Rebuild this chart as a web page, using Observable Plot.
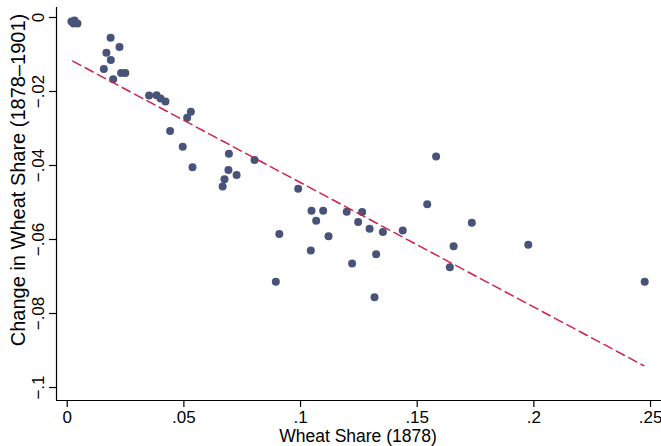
<!DOCTYPE html>
<html>
<head>
<meta charset="utf-8">
<script src="https://cdn.jsdelivr.net/npm/d3@7"></script>
<script src="https://cdn.jsdelivr.net/npm/@observablehq/plot@0.6"></script>
<style>
  html, body { margin: 0; padding: 0; background: white; }
</style>
</head>
<body>
<div id="chart"></div>
<script>
// Wheat share in 1878 (x) and change in wheat share 1878–1901 (y)
const wheatShare1878 = [
  0.0018, 0.0031, 0.0027, 0.0044,
  0.0186, 0.0224, 0.0168, 0.0187, 0.0157, 0.0231, 0.0249, 0.0197,
  0.0351, 0.0383, 0.0400, 0.0421, 0.0530, 0.0514, 0.0441, 0.0495, 0.0537,
  0.0693, 0.0691, 0.0674, 0.0666, 0.0726, 0.0803,
  0.0990, 0.1047, 0.1097, 0.1067, 0.1198, 0.1264, 0.1247, 0.1296, 0.1353, 0.1438,
  0.0909, 0.1120, 0.1044, 0.1324, 0.1221, 0.0894, 0.1317,
  0.1581, 0.1543, 0.1734, 0.1656, 0.1640, 0.1976, 0.2475
];
const changeWheatShare = [
  -0.0011, -0.0008, -0.0016, -0.0016,
  -0.0055, -0.0080, -0.0095, -0.0115, -0.0139, -0.0150, -0.0150, -0.0167,
  -0.0211, -0.0210, -0.0219, -0.0227, -0.0255, -0.0271, -0.0307, -0.0349, -0.0405,
  -0.0368, -0.0412, -0.0437, -0.0457, -0.0426, -0.0385,
  -0.0463, -0.0522, -0.0522, -0.0549, -0.0525, -0.0526, -0.0553, -0.0571, -0.0580, -0.0576,
  -0.0585, -0.0591, -0.0630, -0.0640, -0.0665, -0.0714, -0.0756,
  -0.0376, -0.0505, -0.0555, -0.0618, -0.0675, -0.0614, -0.0714
];
// Fitted values (linear fit) at the ends of the data range
const fitX = [0.0024, 0.2471];
const fitY = [-0.0118, -0.0941];

const xTicks = [0, 0.05, 0.1, 0.15, 0.2, 0.25];
const yTicks = [0, -0.02, -0.04, -0.06, -0.08, -0.1];
const xTitle = "Wheat Share (1878)";
const yTitle = "Change in Wheat Share (1878–1901)";

const points = wheatShare1878.map((x, i) => ({x, y: changeWheatShare[i]}));
const fit = fitX.map((x, i) => ({x, y: fitY[i]}));

const fmt = d => d === 0 ? "0" : (d < 0 ? "\u2212" : "") + String(Math.abs(d)).replace(/^0/, "");

const xDomain = [-0.00459, 0.2547];
const yDomain = [-0.10351, 0.0027];

const chart = Plot.plot({
  width: 661,
  height: 446,
  marginLeft: 56,
  marginRight: 0,
  marginTop: 7,
  marginBottom: 46,
  x: {domain: xDomain},
  y: {domain: yDomain},
  style: {fontFamily: "'Liberation Sans', Arial, sans-serif", fontSize: "17px", color: "black", background: "white"},
  marks: [
    Plot.ruleX([xDomain[0]], {stroke: "black", strokeWidth: 1.2}),
    Plot.ruleY([yDomain[0]], {stroke: "black", strokeWidth: 1.2}),
    Plot.axisX({ticks: xTicks, tickSize: 7, tickPadding: 3, tickFormat: fmt, label: null, strokeWidth: 1.2}),
    Plot.axisY({ticks: yTicks, tickSize: 7, tickPadding: 6, tickRotate: -90, tickFormat: fmt, label: null, strokeWidth: 1.2}),
    Plot.dot(points, {x: "x", y: "y", r: 4, fill: "#475378", stroke: "none"}),
    Plot.line(fit, {x: "x", y: "y", stroke: "#d2204a", strokeWidth: 1.5, strokeDasharray: "9,5"})
  ]
});

const svg = d3.select(chart);
svg.append("text")
  .attr("transform", "translate(25,180) rotate(-90)")
  .attr("text-anchor", "middle")
  .attr("font-family", "'Liberation Sans', Arial, sans-serif")
  .attr("font-size", 20)
  .attr("fill", "black")
  .text(yTitle);
svg.append("text")
  .attr("x", 358)
  .attr("y", 442)
  .attr("text-anchor", "middle")
  .attr("font-family", "'Liberation Sans', Arial, sans-serif")
  .attr("font-size", 17.5)
  .attr("fill", "black")
  .text(xTitle);

document.getElementById("chart").appendChild(chart);
</script>
</body>
</html>
